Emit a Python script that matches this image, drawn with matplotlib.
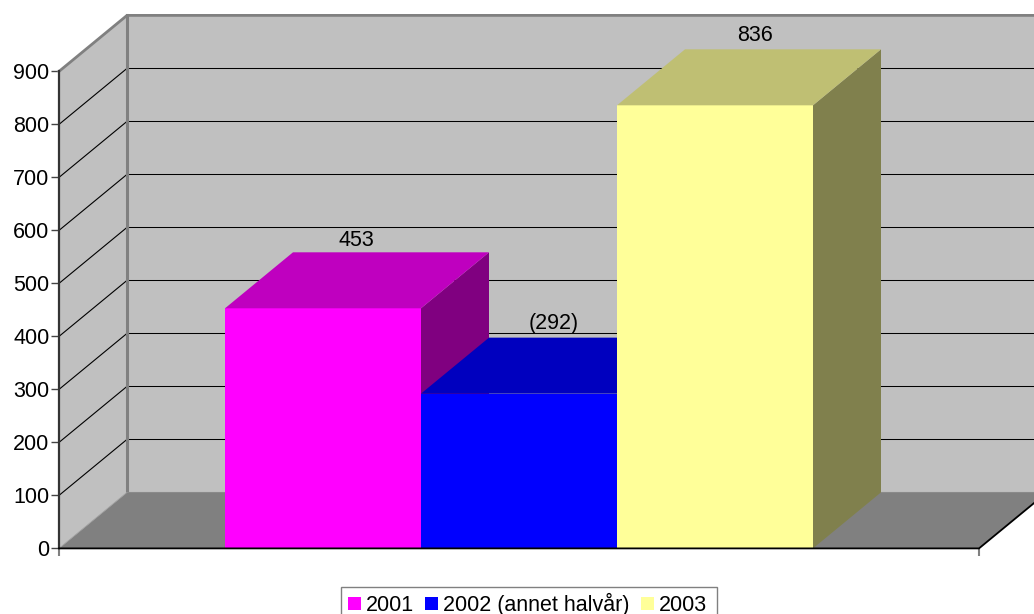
import matplotlib
matplotlib.use("Agg")
import matplotlib.pyplot as plt
from matplotlib.patches import Patch, Rectangle

series_names = ["2001", "2002 (annet halvår)", "2003"]
series_values = [453, 292, 836]
value_labels = ["453", "(292)", "836"]
y_ticks = [0, 100, 200, 300, 400, 500, 600, 700, 800, 900]
front_colors = ["#FF00FF", "#0000FF", "#FFFF99"]
top_colors = ["#BF00BF", "#0000BF", "#BFBF73"]
side_colors = ["#800080", "#000080", "#80804D"]

W, H = 1034, 614
plt.rcParams["font.family"] = ["Liberation Sans", "DejaVu Sans"]
fig = plt.figure(figsize=(W / 100, H / 100), dpi=100)
ax = fig.add_axes([59 / W, (H - 548.4) / H, 920 / W, 477 / H])
ax.set_xlim(-1.347, 3.347)
ax.set_ylim(0, 900)
for s in ax.spines.values():
    s.set_visible(False)
ax.patch.set_visible(False)

# depth of the 3D box, in data units
dx = 68 / 196
dy = 56 / (477 / 900)
x0, x1 = ax.get_xlim()
ymax = y_ticks[-1]
k = dict(clip_on=False)

# walls and floor
ax.fill([x0 + dx, x1 + dx, x1 + dx, x0 + dx], [dy, dy, ymax + dy, ymax + dy], color="#C0C0C0", lw=0, zorder=1, **k)
ax.fill([x0, x0 + dx, x0 + dx, x0], [0, dy, ymax + dy, ymax], color="#C0C0C0", lw=0, zorder=1, **k)
ax.fill([x0, x1, x1 + dx, x0 + dx], [0, 0, dy, dy], color="#808080", lw=0, zorder=1, **k)

# gridlines on walls
for t in y_ticks[1:-1]:
    ax.plot([x0, x0 + dx], [t, t + dy], color="black", lw=0.8, zorder=2, **k)
    ax.plot([x0 + dx, x1 + dx], [t + dy, t + dy], color="black", lw=0.75, zorder=2, snap=True, **k)

# wall frame
ax.plot([x0, x0 + dx, x1 + dx], [ymax, ymax + dy, ymax + dy], color="#808080", lw=2.0, zorder=2, solid_joinstyle="miter", **k)
ax.plot([x0 + dx, x0 + dx], [dy, ymax + dy], color="#808080", lw=2.2, zorder=2, **k)
ax.plot([x0 + dx, x1 + dx], [dy, dy], color="#8A8A8A", lw=0.8, zorder=2, **k)
ax.plot([x0, x0 + dx], [0, dy], color="#A0A0A0", lw=0.6, zorder=2, **k)

# bars
label_shift_x = [-0.005, 0.005, 0.03]
label_shift_y = [22, 27, 27]
for i, (v, lab) in enumerate(zip(series_values, value_labels)):
    l, r = i - 0.5, i + 0.5
    ax.fill([r, r + dx, r + dx, r], [0, dy, v + dy, v], color=side_colors[i], lw=0, zorder=3 + i, **k)
    ax.bar(i, v, width=1.0, color=front_colors[i], lw=0, zorder=3 + i, **k)
    ax.fill([l, r, r + dx, l + dx], [v, v, v + dy, v + dy], color=top_colors[i], lw=0, zorder=3 + i, **k)
    ax.text(i + dx / 2 + label_shift_x[i], v + dy + label_shift_y[i], lab, ha="center", va="center",
            fontsize=15.5, color="black", zorder=10)

# axis lines
ax.plot([x0, x0], [0, ymax], color="#333333", lw=1.6, zorder=8, **k)
ax.plot([x0, x1, x1 + dx], [0, 0, dy], color="black", lw=1.3, zorder=8, solid_joinstyle="miter", **k)

ax.set_yticks(y_ticks)
ax.set_yticklabels([str(t) for t in y_ticks], fontsize=15.5)
ax.tick_params(axis="y", length=5.8, width=1.0, color="#444444", pad=1.2)
ax.set_xticks([x0, x1])
ax.set_xticklabels(["", ""])
ax.tick_params(axis="x", length=6, width=1.5, color="#808080")

# legend box runs past the lower edge of the picture, as in the original
fig.add_artist(Rectangle((340.5 / W, 1 - 630 / H), 376 / W, 43 / H, transform=fig.transFigure,
                         facecolor="white", edgecolor="#808080", lw=1.0))
handles = [Patch(facecolor=c, edgecolor="none") for c in front_colors]
leg = fig.legend(handles, series_names, loc="upper left",
                 bbox_to_anchor=(348 / W, 1 - 593 / H), bbox_transform=fig.transFigure,
                 ncol=3, frameon=False, fontsize=15.5, handlelength=0.6, handleheight=0.6,
                 handletextpad=0.25, columnspacing=0.5, borderpad=0, borderaxespad=0)

fig.savefig("out.png", dpi=100)
